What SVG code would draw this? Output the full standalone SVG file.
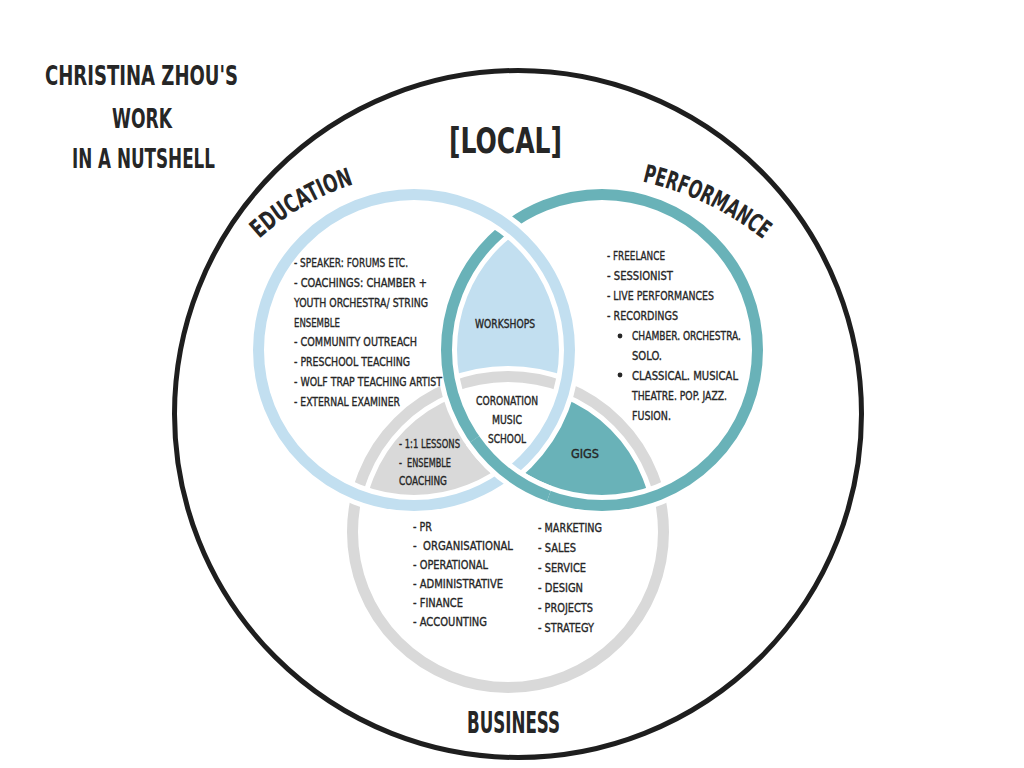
<svg xmlns="http://www.w3.org/2000/svg" width="1024" height="768" viewBox="0 0 1024 768">
<defs>
<style>
.t{font-family:"DejaVu Sans Condensed","DejaVu Sans","Liberation Sans",sans-serif;font-stretch:condensed;fill:#262626}
.b{font-size:13px;stroke:#262626;stroke-width:0.35}
.c{font-size:12px;text-anchor:middle;stroke:#262626;stroke-width:0.35}
.s{font-size:12px;stroke:#262626;stroke-width:0.35}
.h{font-size:27px;font-weight:bold}
.k{font-weight:bold}
.halo{fill:none;stroke:#ffffff;stroke-width:21}
.ring{fill:none;stroke-width:11}
.edu{stroke:#c2dff0}
.perf{stroke:#69b2b8}
.bus{stroke:#d9d9d9}
</style>
<path id="arcEdu" d="M212,297.9 A250,250 0 0 1 428.5,172.9"/>
<path id="arcPerf" d="M553.2,175.4 A300,300 0 0 1 824.1,304.4"/>
</defs>
<rect width="1024" height="768" fill="#ffffff"/>

<g id="title">
<text class="t h" x="45" y="85" textLength="193" lengthAdjust="spacingAndGlyphs">CHRISTINA ZHOU'S</text>
<text class="t h" x="112" y="128" textLength="60" lengthAdjust="spacingAndGlyphs">WORK</text>
<text class="t h" x="72" y="168" textLength="143" lengthAdjust="spacingAndGlyphs">IN A NUTSHELL</text>
</g>

<g id="local">
<circle cx="518" cy="414" r="343.5" fill="none" stroke="#1e1e1e" stroke-width="5"/>
<text class="t k" font-size="36" x="449" y="153" textLength="113" lengthAdjust="spacingAndGlyphs">[LOCAL]</text>
</g>

<g id="regions">
<path id="workshops-fill" d="M508,226 A155.5,155.5 0 0 0 451,387.3 A155.5,155.5 0 0 1 565,387.3 A155.5,155.5 0 0 0 508,226 Z" fill="#c2dff0"/>
<path id="lessons-fill" d="M357,494.7 A155.5,155.5 0 0 1 451,387.3 A155.5,155.5 0 0 0 508,473.9 A155.5,155.5 0 0 1 357,494.7 Z" fill="#d9d9d9"/>
<path id="gigs-fill" d="M565,387.3 A155.5,155.5 0 0 1 659,494.7 A155.5,155.5 0 0 1 508,473.9 A155.5,155.5 0 0 0 565,387.3 Z" fill="#69b2b8"/>
</g>

<g id="business">
<circle class="halo" cx="508" cy="532" r="155.5"/>
<circle class="ring bus" cx="508" cy="532" r="155.5"/>
</g>
<g id="performance">
<circle class="halo" cx="602" cy="350" r="155.5"/>
<circle class="ring perf" cx="602" cy="350" r="155.5"/>
</g>
<g id="education">
<circle class="halo" cx="414" cy="350" r="155.5"/>
<circle class="ring edu" cx="414" cy="350" r="155.5"/>
</g>
<g id="performance-overlap">
<path class="halo" d="M548.8,496.1 A155.5,155.5 0 0 1 474.6,439.2"/>
<path class="ring perf" d="M548.8,496.1 A155.5,155.5 0 0 1 474.6,439.2"/>
</g>

<g id="connectors"></g>

<g id="education-labels">
<text class="t k" font-size="25"><textPath href="#arcEdu" startOffset="50%" text-anchor="middle" textLength="110" lengthAdjust="spacingAndGlyphs">EDUCATION</textPath></text>
<text class="t b" x="294" y="267" textLength="114" lengthAdjust="spacingAndGlyphs">- SPEAKER: FORUMS ETC.</text>
<text class="t b" x="294" y="287" textLength="133" lengthAdjust="spacingAndGlyphs">- COACHINGS: CHAMBER +</text>
<text class="t b" x="294" y="307" textLength="134" lengthAdjust="spacingAndGlyphs">YOUTH ORCHESTRA/ STRING</text>
<text class="t b" x="294" y="327" textLength="46" lengthAdjust="spacingAndGlyphs">ENSEMBLE</text>
<text class="t b" x="294" y="346" textLength="123" lengthAdjust="spacingAndGlyphs">- COMMUNITY OUTREACH</text>
<text class="t b" x="294" y="366" textLength="116" lengthAdjust="spacingAndGlyphs">- PRESCHOOL TEACHING</text>
<text class="t b" x="294" y="386" textLength="148" lengthAdjust="spacingAndGlyphs">- WOLF TRAP TEACHING ARTIST</text>
<text class="t b" x="294" y="406" textLength="106" lengthAdjust="spacingAndGlyphs">- EXTERNAL EXAMINER</text>
</g>

<g id="performance-labels">
<text class="t k" font-size="25"><textPath href="#arcPerf" startOffset="50%" text-anchor="middle" textLength="135" lengthAdjust="spacingAndGlyphs">PERFORMANCE</textPath></text>
<text class="t b" x="607" y="260" textLength="58" lengthAdjust="spacingAndGlyphs">- FREELANCE</text>
<text class="t b" x="607" y="280" textLength="66" lengthAdjust="spacingAndGlyphs">- SESSIONIST</text>
<text class="t b" x="607" y="300" textLength="107" lengthAdjust="spacingAndGlyphs">- LIVE PERFORMANCES</text>
<text class="t b" x="607" y="320" textLength="71" lengthAdjust="spacingAndGlyphs">- RECORDINGS</text>
<circle cx="620" cy="336" r="2.4" fill="#262626"/>
<text class="t b" x="632" y="340" textLength="109" lengthAdjust="spacingAndGlyphs">CHAMBER. ORCHESTRA.</text>
<text class="t b" x="632" y="360" textLength="30" lengthAdjust="spacingAndGlyphs">SOLO.</text>
<circle cx="620" cy="375" r="2.4" fill="#262626"/>
<text class="t b" x="632" y="380" textLength="106" lengthAdjust="spacingAndGlyphs">CLASSICAL. MUSICAL</text>
<text class="t b" x="632" y="400" textLength="95" lengthAdjust="spacingAndGlyphs">THEATRE. POP. JAZZ.</text>
<text class="t b" x="632" y="420" textLength="39" lengthAdjust="spacingAndGlyphs">FUSION.</text>
</g>

<g id="workshops">
<text class="t c" x="505" y="328" textLength="60" lengthAdjust="spacingAndGlyphs">WORKSHOPS</text>
</g>

<g id="coronation">
<text class="t c" x="507" y="405" textLength="62" lengthAdjust="spacingAndGlyphs">CORONATION</text>
<text class="t c" x="507" y="424" textLength="30" lengthAdjust="spacingAndGlyphs">MUSIC</text>
<text class="t c" x="507" y="443" textLength="38" lengthAdjust="spacingAndGlyphs">SCHOOL</text>
</g>

<g id="gigs">
<text class="t c" font-size="14" x="585" y="458" textLength="28" lengthAdjust="spacingAndGlyphs">GIGS</text>
</g>

<g id="lessons">
<text class="t s" x="399" y="448" textLength="61" lengthAdjust="spacingAndGlyphs">- 1:1 LESSONS</text>
<text class="t s" x="399" y="467" textLength="52" lengthAdjust="spacingAndGlyphs" xml:space="preserve">-  ENSEMBLE</text>
<text class="t s" x="399" y="485" textLength="48" lengthAdjust="spacingAndGlyphs">COACHING</text>
</g>

<g id="business-labels">
<text class="t b" x="413" y="531" textLength="19" lengthAdjust="spacingAndGlyphs">- PR</text>
<text class="t b" x="413" y="550" textLength="100" lengthAdjust="spacingAndGlyphs" xml:space="preserve">-  ORGANISATIONAL</text>
<text class="t b" x="413" y="569" textLength="75" lengthAdjust="spacingAndGlyphs">- OPERATIONAL</text>
<text class="t b" x="413" y="588" textLength="90" lengthAdjust="spacingAndGlyphs">- ADMINISTRATIVE</text>
<text class="t b" x="413" y="607" textLength="50" lengthAdjust="spacingAndGlyphs">- FINANCE</text>
<text class="t b" x="413" y="626" textLength="74" lengthAdjust="spacingAndGlyphs">- ACCOUNTING</text>
<text class="t b" x="538" y="532" textLength="64" lengthAdjust="spacingAndGlyphs">- MARKETING</text>
<text class="t b" x="538" y="552" textLength="38" lengthAdjust="spacingAndGlyphs">- SALES</text>
<text class="t b" x="538" y="572" textLength="48" lengthAdjust="spacingAndGlyphs">- SERVICE</text>
<text class="t b" x="538" y="592" textLength="45" lengthAdjust="spacingAndGlyphs">- DESIGN</text>
<text class="t b" x="538" y="612" textLength="55" lengthAdjust="spacingAndGlyphs">- PROJECTS</text>
<text class="t b" x="538" y="632" textLength="56" lengthAdjust="spacingAndGlyphs">- STRATEGY</text>
<text class="t k" font-size="30" x="467" y="733" textLength="93" lengthAdjust="spacingAndGlyphs">BUSINESS</text>
</g>
</svg>
